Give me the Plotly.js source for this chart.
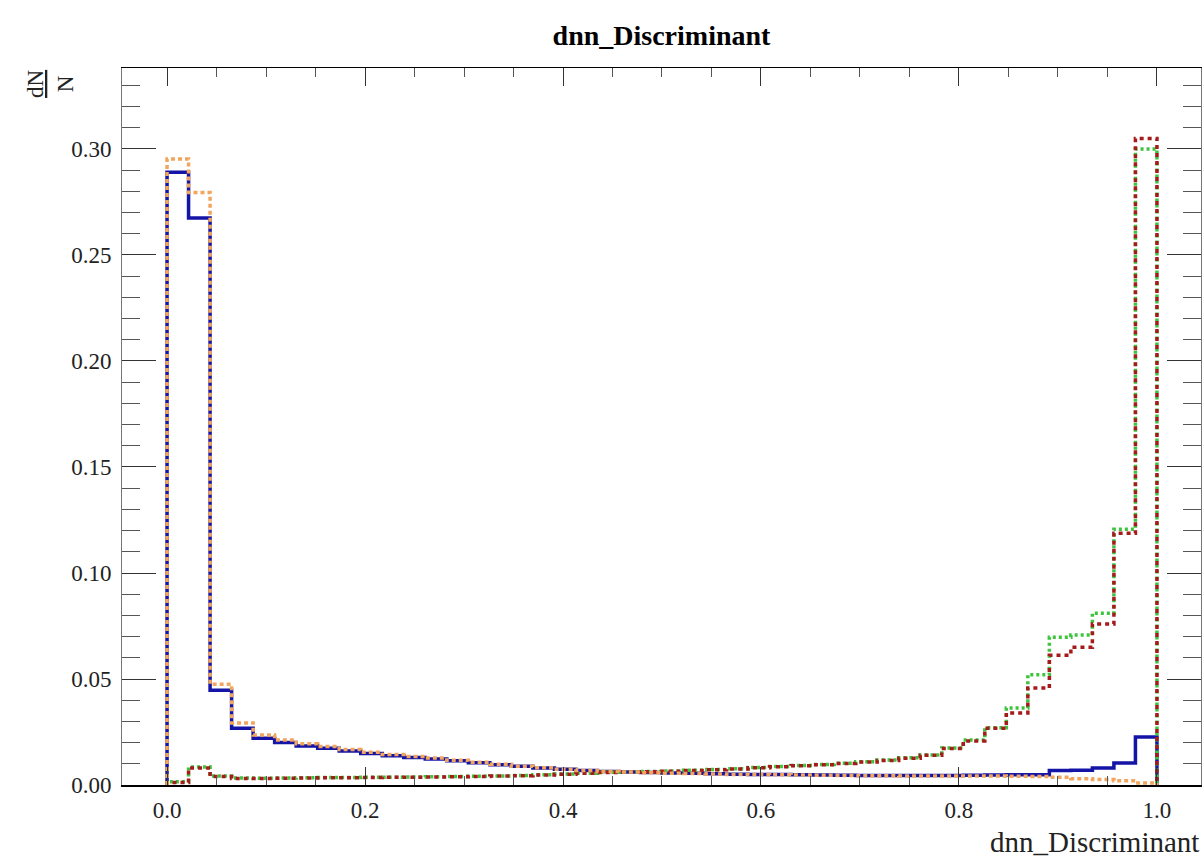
<!DOCTYPE html>
<html>
<head>
<meta charset="utf-8">
<script src="https://cdn.plot.ly/plotly-3.0.1.min.js"></script>
<style>html,body{margin:0;padding:0;background:#fff;}#chart{width:1202px;height:857px;}</style>
</head>
<body>
<div id="chart"></div>
<script>
// Histogram binning (46 bins over [0, 1])
const binLow = 0.0;
const binHigh = 1.0;
const nBins = 46;

// Normalised bin contents (dN/N)
const blueVals = [0.2890,0.2675,0.0447,0.0268,0.0220,0.0200,0.0184,0.0173,0.0160,0.0148,
  0.0138,0.0130,0.0123,0.0114,0.0105,0.0096,0.0088,0.0080,0.0074,0.0068,
  0.0064,0.0061,0.0059,0.0057,0.0055,0.0053,0.0051,0.0050,0.0049,0.0048,
  0.0047,0.0046,0.0045,0.0045,0.0045,0.0045,0.0045,0.0046,0.0047,0.0048,
  0.0048,0.0068,0.0070,0.0080,0.0104,0.0226];
const orangeVals = [0.2953,0.2795,0.0475,0.0293,0.0236,0.0212,0.0195,0.0182,0.0168,0.0155,
  0.0144,0.0135,0.0127,0.0117,0.0107,0.0098,0.0089,0.0081,0.0074,0.0068,
  0.0064,0.0061,0.0058,0.0056,0.0054,0.0052,0.0050,0.0049,0.0048,0.0047,
  0.0046,0.0045,0.0044,0.0044,0.0043,0.0043,0.0043,0.0042,0.0042,0.0041,
  0.0040,0.0036,0.0030,0.0026,0.0020,0.0010];
const greenVals = [0.0015,0.0085,0.0042,0.0033,0.0032,0.0033,0.0034,0.0035,0.0035,0.0036,
  0.0037,0.0038,0.0039,0.0040,0.0041,0.0043,0.0045,0.0048,0.0052,0.0056,
  0.0060,0.0062,0.0064,0.0066,0.0069,0.0073,0.0077,0.0082,0.0087,0.0092,
  0.0097,0.0103,0.0110,0.0118,0.0128,0.0142,0.0175,0.0212,0.0270,0.0363,
  0.0520,0.0697,0.0707,0.0810,0.1206,0.3000];
const redVals = [0.0012,0.0080,0.0040,0.0031,0.0031,0.0032,0.0033,0.0034,0.0034,0.0035,
  0.0036,0.0037,0.0038,0.0039,0.0040,0.0042,0.0044,0.0047,0.0051,0.0055,
  0.0059,0.0061,0.0063,0.0065,0.0068,0.0072,0.0076,0.0081,0.0086,0.0091,
  0.0096,0.0102,0.0108,0.0116,0.0126,0.0140,0.0172,0.0208,0.0268,0.0340,
  0.0457,0.0612,0.0650,0.0760,0.1187,0.3050];

const yTickVals = [0, 0.05, 0.10, 0.15, 0.20, 0.25, 0.30];
const yTickText = ["0.00","0.05","0.10","0.15","0.20","0.25","0.30"];
const xTickVals = [0, 0.2, 0.4, 0.6, 0.8, 1.0];
const xTickText = ["0.0","0.2","0.4","0.6","0.8","1.0"];

function stepTrace(vals, color, dash, width) {
  const w = (binHigh - binLow) / vals.length;
  const xs = [binLow], ys = [0];
  for (let i = 0; i < vals.length; i++) { xs.push(binLow + i * w); ys.push(vals[i]); }
  xs.push(binHigh); ys.push(vals[vals.length - 1]);
  xs.push(binHigh); ys.push(0);
  return {x: xs, y: ys, type: 'scatter', mode: 'lines',
    line: {shape: 'hv', color: color, dash: dash, width: width},
    hoverinfo: 'skip', showlegend: false};
}

const traces = [
  stepTrace(blueVals, '#1414a6', 'solid', 3.5),
  stepTrace(greenVals, '#3cc43c', '3px,3px', 3.5),
  stepTrace(redVals, '#a51a1a', '4px,4px', 3.5),
  stepTrace(orangeVals, '#f2a55e', '4px,3px', 3.5)
];

const serif = 'Liberation Serif';
const layout = {
  width: 1202, height: 857,
  margin: {l: 122, r: 1, t: 68, b: 72},
  paper_bgcolor: '#fff', plot_bgcolor: '#fff',
  title: {text: 'dnn_Discriminant', font: {family: serif, size: 28, color: '#000', weight: 'bold'},
    x: 0.5, xref: 'paper', y: 0.97, yref: 'container', xanchor: 'center'},
  xaxis: {range: [-0.0455, 1.0445], tickvals: xTickVals, ticktext: xTickText,
    ticks: 'inside', ticklen: 18, tickwidth: 1, tickcolor: '#333',
    minor: {dtick: 0.05, ticks: 'inside', ticklen: 9, tickcolor: '#555', tickwidth: 1},
    showline: true, linecolor: '#000', linewidth: 1.5, mirror: 'ticks',
    showgrid: false, zeroline: false,
    tickfont: {family: serif, size: 23, color: '#222'}, ticklabelstandoff: 4},
  yaxis: {range: [0, 0.3382], tickvals: yTickVals, ticktext: yTickText,
    ticks: 'inside', ticklen: 34, tickwidth: 1, tickcolor: '#333',
    minor: {dtick: 0.01, ticks: 'inside', ticklen: 18, tickcolor: '#555', tickwidth: 1},
    showline: true, linecolor: '#777', linewidth: 1, mirror: 'ticks',
    showgrid: false, zeroline: true, zerolinecolor: '#000', zerolinewidth: 4,
    tickfont: {family: serif, size: 23, color: '#222'}, ticklabelstandoff: 5},
  annotations: [
    {text: 'dnn_Discriminant', xref: 'paper', yref: 'paper', x: 1.0, y: 0,
     xanchor: 'right', yanchor: 'top', yshift: -39, showarrow: false,
     font: {family: serif, size: 29, color: '#222'}},
    {text: '<u>dN</u><br>N', xref: 'paper', yref: 'paper', x: 0, y: 1,
     xanchor: 'center', yanchor: 'middle', xshift: -72, yshift: -16, textangle: -90,
     showarrow: false, font: {family: serif, size: 23, color: '#222'}}
  ]
};

Plotly.newPlot('chart', traces, layout, {staticPlot: true, displayModeBar: false});
</script>
</body>
</html>
